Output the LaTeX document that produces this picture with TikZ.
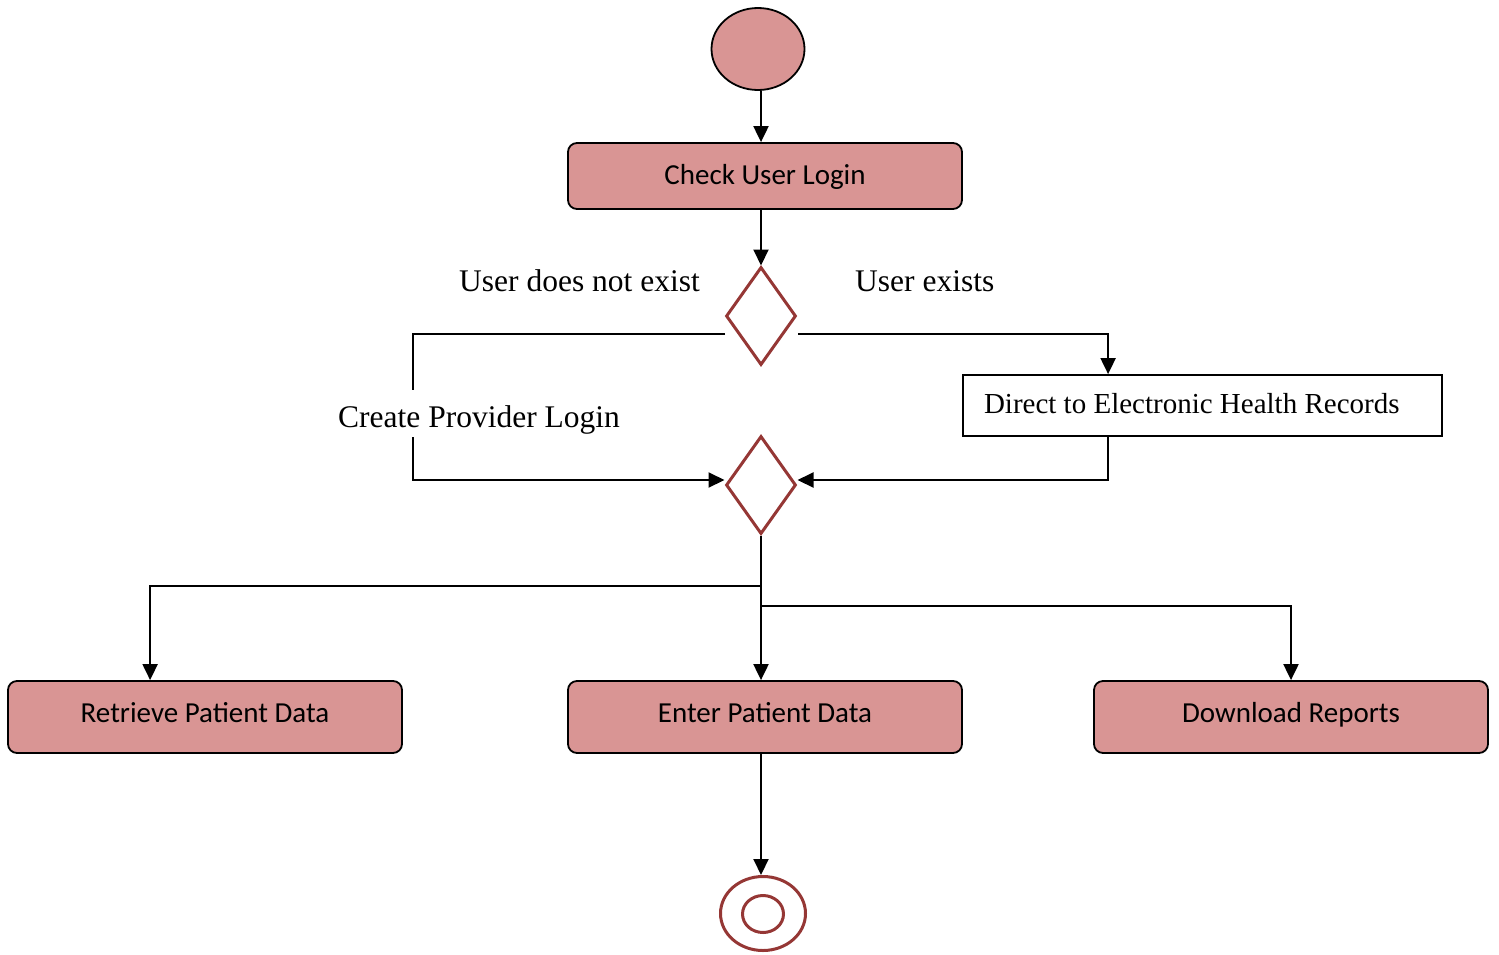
\documentclass[tikz,border=0pt]{standalone}
\usepackage{fontspec}
\setmainfont{Liberation Serif}
\newfontfamily\boxfont{Carlito}
\usetikzlibrary{shapes.geometric,arrows.meta,calc}
\definecolor{pinkfill}{HTML}{D99594}
\definecolor{darkred}{HTML}{953735}
\begin{document}
\begin{tikzpicture}[x=1pt,y=-1pt,
  conn/.style={line width=2pt},
  arr/.style={conn,-{Triangle[length=16pt,width=15pt]}},
  actbox/.style={draw, line width=1.8pt, fill=pinkfill, rounded corners=9pt,
    minimum width=394pt, minimum height=72pt, inner sep=0pt,
    font=\boxfont\fontsize{29}{34}\selectfont, text height=19pt, text depth=9pt},
  decision/.style={diamond, draw=darkred, line width=3pt, minimum width=70pt,
    minimum height=98pt, inner sep=0pt},
  lbl/.style={font=\fontsize{31.5}{36}\selectfont, inner sep=0pt, anchor=base west}
]
\useasboundingbox (0,0) rectangle (1499,954);

% nodes
\node[ellipse, draw, line width=1.8pt, fill=pinkfill, minimum width=93pt,
  minimum height=82pt, inner sep=0pt] (start) at (758,49) {};
\node[actbox, minimum height=66pt, text depth=3pt] (check) at (765,176) {Check User Login};
\node[decision] (d1) at (761,316) {};
\node[decision] (d2) at (761,485) {};
\node[draw, line width=1.8pt, minimum height=61pt, text width=437pt, inner xsep=21pt,
  inner ysep=0pt, align=flush left, font=\fontsize{29}{34}\selectfont,
  text height=20pt, text depth=5pt] (ehr) at (1202.5,405.5) {Direct to Electronic Health Records};
\node[actbox] (ret) at (205,717) {Retrieve Patient Data};
\node[actbox] (enter) at (765,717) {Enter Patient Data};
\node[actbox] (dl) at (1291,717) {Download Reports};
\node[ellipse, draw=darkred, line width=3pt, minimum width=85pt, minimum height=74pt,
  inner sep=0pt] (end) at (763,913.5) {};
\node[ellipse, draw=darkred, line width=3pt, minimum width=41pt, minimum height=37pt,
  inner sep=0pt] (endin) at (763,914) {};

% labels
\node[lbl] (lno) at (459,291) {User does not exist};
\node[lbl] (lyes) at (855,291) {User exists};
\node[lbl] (lcpl) at (338,427) {Create Provider Login};

% coordinates
\coordinate (l1) at (725,334);
\coordinate (r1) at (798,334);
\coordinate (g1) at (413,390);
\coordinate (g2) at (413,437);
\coordinate (jL) at (761,586);
\coordinate (jR) at (761,606);

% connectors
\draw[arr] (start.south -| jL) -- (jL |- check.north);
\draw[arr] (jL |- check.south) -- (d1.north);
\draw[conn] (l1) -- (413,334) -- (g1);
\draw[arr] (g2) |- ([yshift=5pt]d2.west);
\draw[arr] (r1) -| ([xshift=146pt]ehr.north west);
\draw[arr] ([xshift=146pt]ehr.south west) |- ([yshift=5pt]d2.east);
\draw[arr] (jL |- d2.south) -- (jL |- enter.north);
\draw[arr] (jL) -| ([xshift=143pt]ret.north west);
\draw[arr] (jR) -| (dl.north);
\draw[arr] (jL |- enter.south) -- (jL |- end.north);
\end{tikzpicture}
\end{document}
